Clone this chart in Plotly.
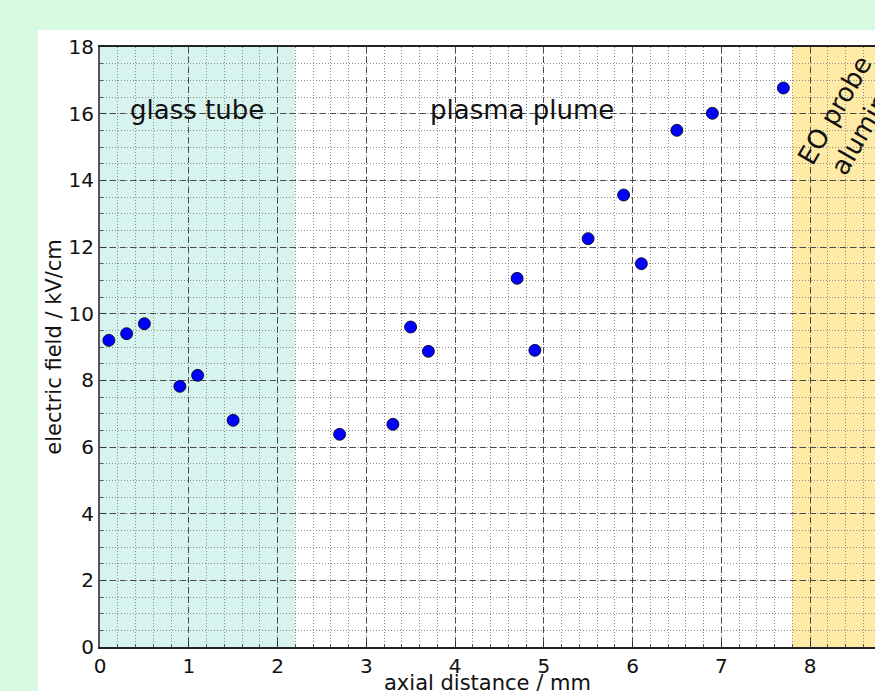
import plotly.graph_objects as go

# Data
axial_distance = [0.1, 0.3, 0.5, 0.9, 1.1, 1.5, 2.7, 3.3, 3.5, 3.7, 4.7, 4.9, 5.5, 5.9, 6.1, 6.5, 6.9, 7.7]
electric_field = [9.2, 9.4, 9.7, 7.82, 8.15, 6.8, 6.38, 6.68, 9.6, 8.87, 11.06, 8.9, 12.25, 13.56, 11.5, 15.5, 16.01, 16.77]

x_ticks = [0, 1, 2, 3, 4, 5, 6, 7, 8]
y_ticks = [0, 2, 4, 6, 8, 10, 12, 14, 16, 18]

region_labels = ["glass tube", "plasma plume", "EO probe<br>alumina"]
region_x0 = [0.0, 2.2, 7.8]
region_x1 = [2.2, 7.8, 9.0]

FONT = "DejaVu Sans"
W, H = 875, 691
ML, MR, MT, MB = 100, 0, 47, 44
PLOT_W = W - ML - MR
PLOT_H = H - MT - MB
x_max = 8 * PLOT_W / 710.0

fig = go.Figure()

fig.add_trace(go.Scatter(
    x=axial_distance, y=electric_field, mode="markers",
    marker=dict(color="#0000ff", size=12, line=dict(color="#000000", width=0.8)),
    showlegend=False,
))

# shaded regions
fig.add_shape(type="rect", xref="x", yref="y", x0=region_x0[0], x1=region_x1[0], y0=0, y1=18,
              fillcolor="#d7f3ee", line=dict(width=0), layer="below")
fig.add_shape(type="rect", xref="x", yref="y", x0=region_x0[2], x1=region_x1[2], y0=0, y1=18,
              fillcolor="#ffeaa6", line=dict(width=0), layer="below")

# outer light green frame
green = "#d6f9e0"
fig.add_shape(type="rect", xref="paper", yref="paper", x0=-0.2, x1=1.2,
              y0=(647 - 30) / PLOT_H, y1=1.3,
              fillcolor=green, line=dict(width=0), layer="above")
fig.add_shape(type="rect", xref="paper", yref="paper", x0=-0.2, x1=(38 - 100) / PLOT_W,
              y0=-0.2, y1=1.3, fillcolor=green, line=dict(width=0), layer="above")

fig.add_annotation(x=1.09, y=16.1, text=region_labels[0], showarrow=False,
                   font=dict(family=FONT, size=26, color="#111111"), xanchor="center", yanchor="middle")
fig.add_annotation(x=4.75, y=16.1, text=region_labels[1], showarrow=False,
                   font=dict(family=FONT, size=26, color="#111111"), xanchor="center", yanchor="middle")
fig.add_annotation(x=8.44, y=15.85, text=region_labels[2], showarrow=False, textangle=-60,
                   font=dict(family=FONT, size=26, color="#111111"), xanchor="center", yanchor="middle")

# x-axis title placed as paper annotation
fig.add_annotation(x=0.5, y=(647 - 683) / PLOT_H, xref="paper", yref="paper",
                   text="axial distance / mm", showarrow=False,
                   font=dict(family=FONT, size=21, color="#111111"), xanchor="center", yanchor="middle")

major_dash = "6px,4px"
minor_dash = "1px,2px"

fig.update_layout(
    width=W, height=H,
    margin=dict(l=ML, r=MR, t=MT, b=MB, autoexpand=False),
    paper_bgcolor="#ffffff", plot_bgcolor="#ffffff",
    font=dict(family=FONT, color="#111111"),
    xaxis=dict(
        range=[0, x_max], tickvals=x_ticks, ticktext=[str(v) for v in x_ticks],
        tickfont=dict(size=20), showline=True, linecolor="#222222", linewidth=2, mirror=True,
        showgrid=True, gridcolor="#4a4a4a", griddash=major_dash, gridwidth=1.3, zeroline=False,
        minor=dict(dtick=0.2, showgrid=True, gridcolor="#8c8c8c", griddash=minor_dash, gridwidth=1,
                   ticks="inside", ticklen=3, tickcolor="#555555"),
        ticks="inside", ticklen=6, tickcolor="#333333", automargin=False,
    ),
    yaxis=dict(
        range=[0, 18], tickvals=y_ticks, ticktext=[str(v) for v in y_ticks],
        tickfont=dict(size=20), showline=True, linecolor="#555555", linewidth=2, mirror=False,
        showgrid=True, gridcolor="#4a4a4a", griddash=major_dash, gridwidth=1.3, zeroline=False,
        minor=dict(dtick=0.5, showgrid=True, gridcolor="#8c8c8c", griddash=minor_dash, gridwidth=1,
                   ticks="inside", ticklen=3, tickcolor="#555555"),
        title=dict(text="electric field / kV/cm", font=dict(size=21), standoff=1),
        ticks="inside", ticklen=6, tickcolor="#333333", automargin=False,
    ),
)

fig.write_html("out.html", config={"displayModeBar": False},
               post_script="document.body.style.margin='0px';document.body.style.overflow='hidden';")
